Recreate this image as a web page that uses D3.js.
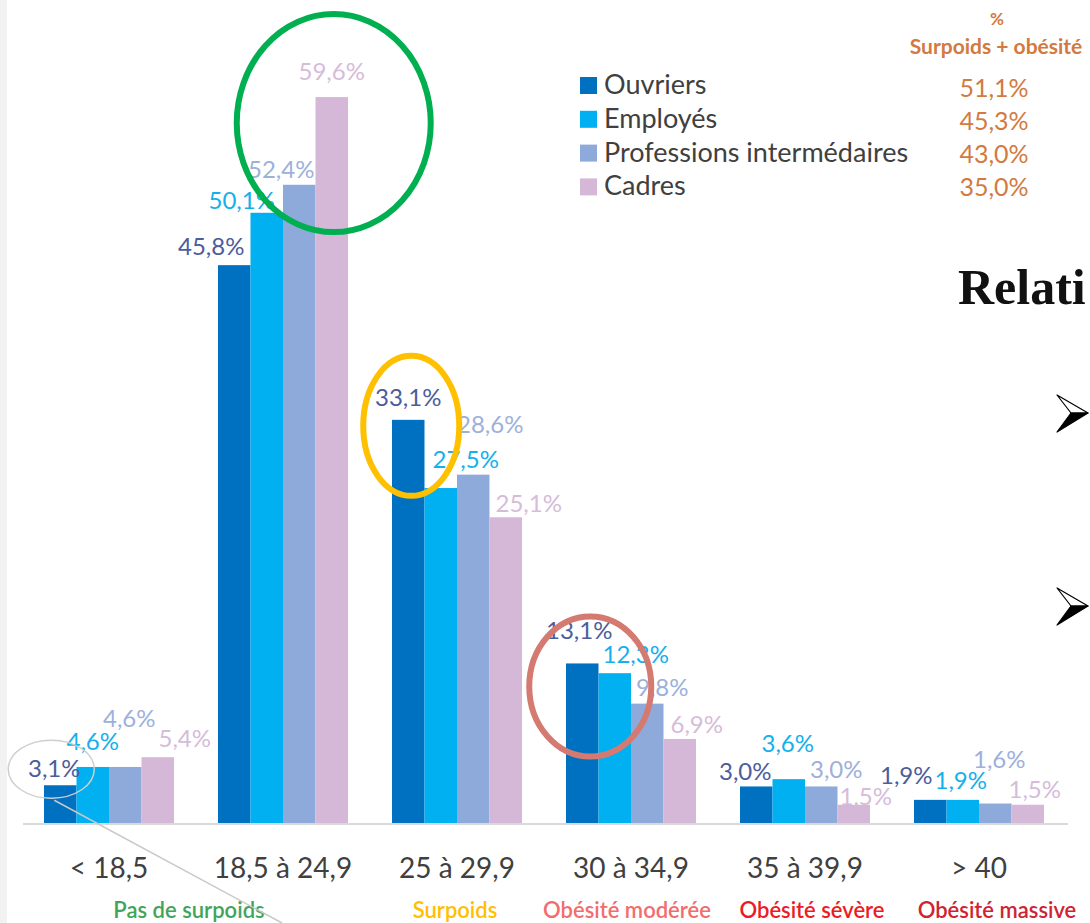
<!DOCTYPE html>
<html>
<head>
<meta charset="utf-8">
<script src="https://cdn.jsdelivr.net/npm/d3@7"></script>
<style>
  body { margin: 0; background: #fff; }
  svg { display: block; font-family: Lato, "Open Sans", sans-serif; }
</style>
</head>
<body>
<svg id="chart" width="1090" height="923"></svg>
<script>
// categories (IMC) and the class name written under them
var categories = ["< 18,5", "18,5 à 24,9", "25 à 29,9", "30 à 34,9", "35 à 39,9", "> 40"];
var bmiClasses = ["Pas de surpoids", "", "Surpoids", "Obésité modérée", "Obésité sévère", "Obésité massive"];

var series = ["Ouvriers", "Employés", "Professions intermédaires", "Cadres"];

// % per category, one array per group
var ouvriers = [3.1, 45.8, 33.1, 13.1, 3.0, 1.9];
var employes = [4.6, 50.1, 27.5, 12.3, 3.6, 1.9];
var profInter = [4.6, 52.4, 28.6, 9.8, 3.0, 1.6];
var cadres = [5.4, 59.6, 25.1, 6.9, 1.5, 1.5];

// % surpoids + obésité
var totals = [51.1, 45.3, 43.0, 35.0];

var values = [ouvriers, employes, profInter, cadres];

// hand placed label nudges [dx, dy above bar top], same order as values
var labelNudge = [
    [[-6, 8], [-23, 10], [0, 14], [-3, 24], [-11, 6], [-24, 16]],
    [[0, 17], [-25, 4], [25, 20], [21, 10], [-1, 27], [-2, 11]],
    [[4, 40], [-18, 7], [17, 42], [15, 8], [15, 8], [4, 36]],
    [[27, 10], [0, 17], [23, 5], [17, 6], [12, 0], [7, 7]]
];

var barColors = ["#0070c0", "#00b0f0", "#8eaadb", "#d5b8d8"];
var labelColors = ["#4b5d9c", "#14b0ec", "#9db0dc", "#d6bcda"];
var classColors = ["#3fa55b", "", "#ffc000", "#f26d6d", "#ec1c24", "#cf2430"];
var classNudge = [80, 0, -2, -4, 7, 18];

var svg = d3.select("#chart");
var baseY = 823;

var x0 = d3.scaleBand()
    .domain(categories)
    .range([22, 1066])
    .paddingInner(0.2529)
    .paddingOuter(0.1264);

var x1 = d3.scaleBand()
    .domain(series)
    .range([0, x0.bandwidth()]);

var y = d3.scaleLinear()
    .domain([0, 60])
    .range([baseY, baseY - 60 * 12.18]);

var fmt = function(v) { return v.toFixed(1).replace(".", ",") + "%"; };

// page texture strip on the left
svg.append("rect")
    .attr("x", 0).attr("y", 0)
    .attr("width", 7).attr("height", 923)
    .attr("fill", "#f2f2f2");

// baseline
svg.append("line")
    .attr("x1", 23).attr("x2", 1068)
    .attr("y1", baseY + 1).attr("y2", baseY + 1)
    .attr("stroke", "#d9d9d9")
    .attr("stroke-width", 2);

// bars
var groups = svg.append("g").selectAll("g")
    .data(series)
    .join("g")
    .attr("fill", function(d, i) { return barColors[i]; });

groups.selectAll("rect")
    .data(function(s, i) { return values[i].map(function(v, j) { return {s: s, c: categories[j], v: v}; }); })
    .join("rect")
    .attr("x", function(d) { return x0(d.c) + x1(d.s); })
    .attr("y", function(d) { return y(d.v); })
    .attr("width", x1.bandwidth())
    .attr("height", function(d) { return baseY - y(d.v); });

// value labels
series.forEach(function(s, i) {
    svg.append("g").selectAll("text")
        .data(values[i])
        .join("text")
        .attr("x", function(v, j) { return x0(categories[j]) + x1(s) + x1.bandwidth() / 2 + labelNudge[i][j][0]; })
        .attr("y", function(v, j) { return y(v) - labelNudge[i][j][1]; })
        .attr("text-anchor", "middle")
        .attr("font-size", 24)
        .attr("fill", labelColors[i])
        .text(fmt);
});

// category axis labels
svg.append("g").selectAll("text")
    .data(categories)
    .join("text")
    .attr("x", function(d) { return x0(d) + x0.bandwidth() / 2; })
    .attr("y", 878)
    .attr("text-anchor", "middle")
    .attr("font-size", 28)
    .attr("fill", "#404040")
    .text(function(d) { return d; });

svg.append("g").selectAll("text")
    .data(bmiClasses)
    .join("text")
    .attr("x", function(d, i) { return x0(categories[i]) + x0.bandwidth() / 2 + classNudge[i]; })
    .attr("y", 918)
    .attr("text-anchor", "middle")
    .attr("font-size", 22)
    .attr("font-weight", 600)
    .attr("fill", function(d, i) { return classColors[i]; })
    .text(function(d) { return d; });

// legend
var legend = svg.append("g").selectAll("g")
    .data(series)
    .join("g")
    .attr("transform", function(d, i) { return "translate(580," + (77 + i * 33.8) + ")"; });

legend.append("rect")
    .attr("width", 17).attr("height", 17)
    .attr("fill", function(d, i) { return barColors[i]; });

legend.append("text")
    .attr("x", 24).attr("y", 17)
    .attr("font-size", 27)
    .attr("fill", "#404040")
    .text(function(d) { return d; });

// totals column
var orange = "#d27a40";
svg.append("text")
    .attr("x", 997).attr("y", 25)
    .attr("text-anchor", "middle")
    .attr("font-size", 17).attr("font-weight", 700)
    .attr("fill", orange)
    .text("%");
svg.append("text")
    .attr("x", 996).attr("y", 54)
    .attr("text-anchor", "middle")
    .attr("font-size", 21).attr("font-weight", 700)
    .attr("fill", orange)
    .text("Surpoids + obésité");

svg.append("g").selectAll("text")
    .data(totals)
    .join("text")
    .attr("x", 994)
    .attr("y", function(d, i) { return 97 + i * 33; })
    .attr("text-anchor", "middle")
    .attr("font-size", 25)
    .attr("fill", orange)
    .text(fmt);

// annotation ellipses, placed from the bars they circle
var barMid = function(c, s) { return x0(categories[c]) + x1(series[s]) + x1.bandwidth() / 2; };

var rings = [
    {cx: barMid(1, 3) + 2, cy: y(59.6) + 26, rx: 97, ry: 109, color: "#00b050", w: 6},
    {cx: barMid(2, 0) + 3, cy: y(33.1) + 6, rx: 48, ry: 70, color: "#ffc000", w: 6},
    {cx: barMid(3, 0) + 8, cy: y(13.1) + 23, rx: 61, ry: 70, color: "#d47a70", w: 6},
    {cx: barMid(0, 0) - 9, cy: y(3.1) - 16, rx: 43, ry: 29, color: "#cfcfcf", w: 1.5}
];

svg.append("g").selectAll("ellipse")
    .data(rings)
    .join("ellipse")
    .attr("cx", function(d) { return d.cx; })
    .attr("cy", function(d) { return d.cy; })
    .attr("rx", function(d) { return d.rx; })
    .attr("ry", function(d) { return d.ry; })
    .attr("fill", "none")
    .attr("stroke", function(d) { return d.color; })
    .attr("stroke-width", function(d) { return d.w; });

// callout line from the small ring
svg.append("line")
    .attr("x1", rings[3].cx + 3).attr("y1", rings[3].cy + rings[3].ry + 2)
    .attr("x2", 282).attr("y2", 923)
    .attr("stroke", "#c8c8c8")
    .attr("stroke-width", 1.5);

// slide text on the right
svg.append("text")
    .attr("x", 958).attr("y", 304)
    .attr("font-family", "'Liberation Serif', 'DejaVu Serif', serif")
    .attr("font-size", 50)
    .attr("font-weight", 700)
    .attr("fill", "#111")
    .text("Relati");

[413, 606].forEach(function(cy) {
    var g = svg.append("g").attr("transform", "translate(1057," + cy + ")");
    g.append("path")
        .attr("d", "M0,-18 L31,0 L14,0 Z")
        .attr("fill", "#fff").attr("stroke", "#000").attr("stroke-width", 1.2)
        .attr("stroke-linejoin", "round");
    g.append("path")
        .attr("d", "M14,0 L31,0 L0,19 Z")
        .attr("fill", "#000").attr("stroke", "#000").attr("stroke-width", 1.2)
        .attr("stroke-linejoin", "round");
});
</script>
</body>
</html>
